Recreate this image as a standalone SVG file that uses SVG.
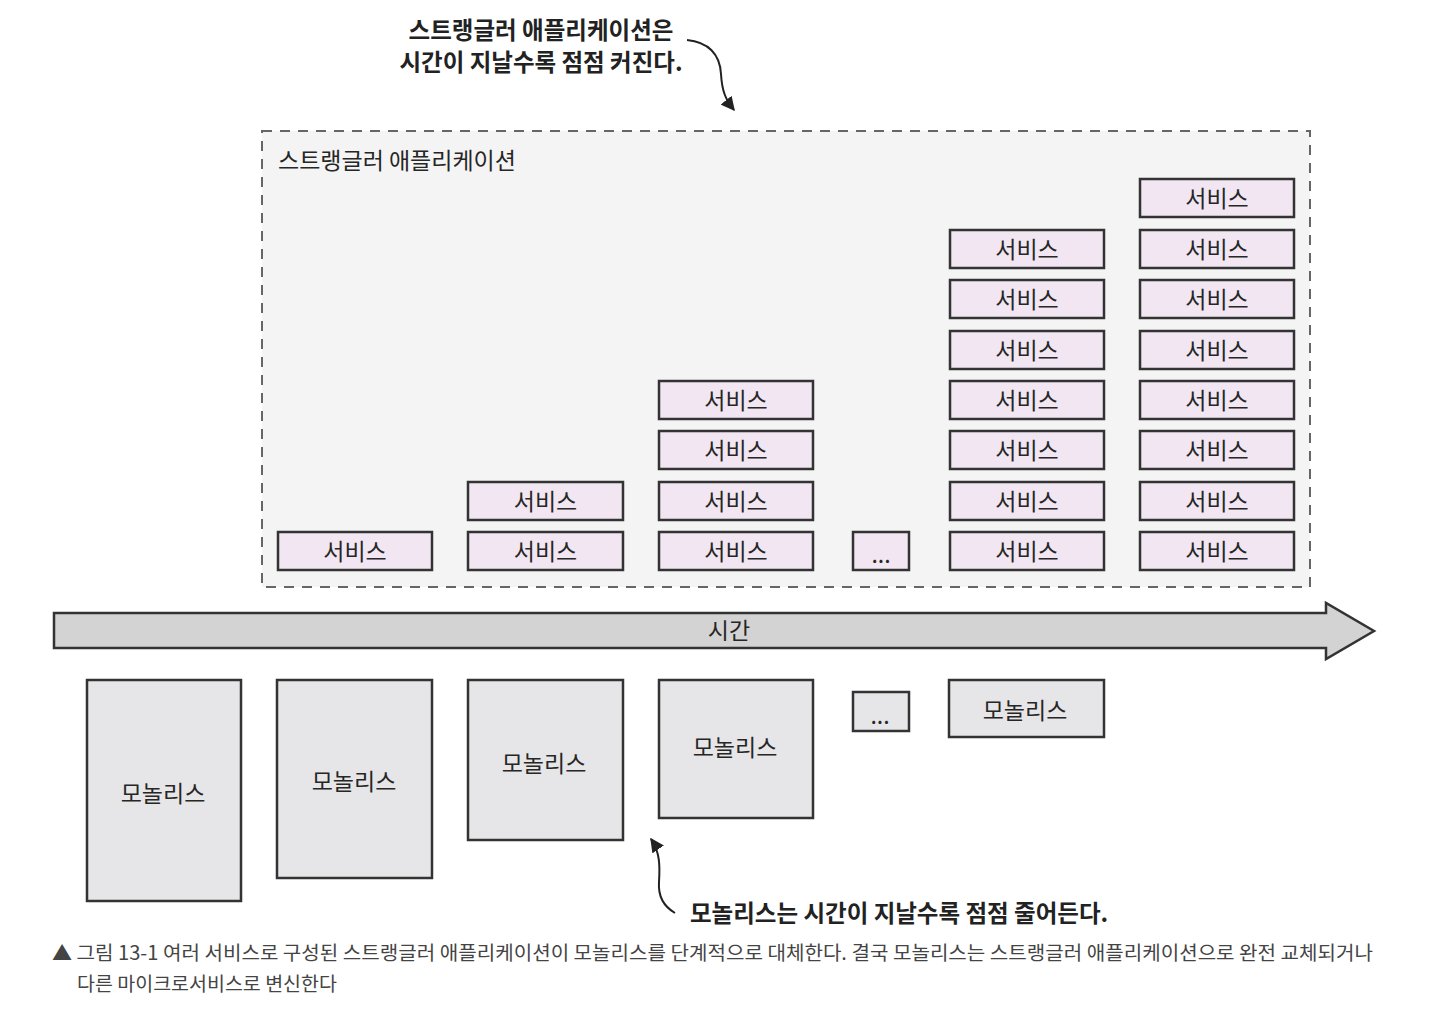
<svg xmlns="http://www.w3.org/2000/svg" width="1431" height="1014" viewBox="0 0 1431 1014">
<style>
text{font-family:"Noto Sans CJK KR","Noto Sans",sans-serif;fill:#262626}
.svc rect{fill:#f1e6f1;stroke:#333;stroke-width:2.5}
.mono rect{fill:#e6e6e8;stroke:#333;stroke-width:2.5}
.lbl{font-size:23px;text-anchor:middle;dominant-baseline:central}
.note{font-size:23.5px;font-weight:700;fill:#222}
.cap{font-size:19.5px;fill:#444}
.curve{fill:none;stroke:#222;stroke-width:2}
</style>
<defs>
<marker id="ah2" viewBox="0 0 10 10" refX="9" refY="5" markerWidth="14" markerHeight="14" orient="auto" markerUnits="userSpaceOnUse">
<path d="M0,0 L10,5 L0,10 z" fill="#222"/>
</marker>
</defs>
<rect width="1431" height="1014" fill="#fff"/>

<g id="strangler">
<rect x="262" y="131" width="1048" height="456" fill="#f4f4f4" stroke="#666" stroke-width="2" stroke-dasharray="10 8"/>
<text x="278" y="159" font-size="23" dominant-baseline="central">스트랭글러 애플리케이션</text>
</g>

<g id="services" class="svc">
<g id="svc-1-1"><rect x="278" y="532" width="154" height="38"/><text class="lbl" x="355" y="550">서비스</text></g>
<g id="svc-2-1"><rect x="468" y="532" width="155" height="38"/><text class="lbl" x="545.5" y="550">서비스</text></g>
<g id="svc-2-2"><rect x="468" y="482" width="155" height="38"/><text class="lbl" x="545.5" y="500">서비스</text></g>
<g id="svc-3-1"><rect x="659" y="532" width="154" height="38"/><text class="lbl" x="736" y="550">서비스</text></g>
<g id="svc-3-2"><rect x="659" y="482" width="154" height="38"/><text class="lbl" x="736" y="500">서비스</text></g>
<g id="svc-3-3"><rect x="659" y="431" width="154" height="38"/><text class="lbl" x="736" y="449">서비스</text></g>
<g id="svc-3-4"><rect x="659" y="381" width="154" height="38"/><text class="lbl" x="736" y="399">서비스</text></g>
<g id="svc-dots"><rect x="853" y="532" width="56" height="38"/><text class="lbl" x="881" y="553" font-size="16">...</text></g>
<g id="svc-4-1"><rect x="950" y="532" width="154" height="38"/><text class="lbl" x="1027" y="550">서비스</text></g>
<g id="svc-4-2"><rect x="950" y="482" width="154" height="38"/><text class="lbl" x="1027" y="500">서비스</text></g>
<g id="svc-4-3"><rect x="950" y="431" width="154" height="38"/><text class="lbl" x="1027" y="449">서비스</text></g>
<g id="svc-4-4"><rect x="950" y="381" width="154" height="38"/><text class="lbl" x="1027" y="399">서비스</text></g>
<g id="svc-4-5"><rect x="950" y="331" width="154" height="38"/><text class="lbl" x="1027" y="349">서비스</text></g>
<g id="svc-4-6"><rect x="950" y="280" width="154" height="38"/><text class="lbl" x="1027" y="298">서비스</text></g>
<g id="svc-4-7"><rect x="950" y="230" width="154" height="38"/><text class="lbl" x="1027" y="248">서비스</text></g>
<g id="svc-5-1"><rect x="1140" y="532" width="154" height="38"/><text class="lbl" x="1217" y="550">서비스</text></g>
<g id="svc-5-2"><rect x="1140" y="482" width="154" height="38"/><text class="lbl" x="1217" y="500">서비스</text></g>
<g id="svc-5-3"><rect x="1140" y="431" width="154" height="38"/><text class="lbl" x="1217" y="449">서비스</text></g>
<g id="svc-5-4"><rect x="1140" y="381" width="154" height="38"/><text class="lbl" x="1217" y="399">서비스</text></g>
<g id="svc-5-5"><rect x="1140" y="331" width="154" height="38"/><text class="lbl" x="1217" y="349">서비스</text></g>
<g id="svc-5-6"><rect x="1140" y="280" width="154" height="38"/><text class="lbl" x="1217" y="298">서비스</text></g>
<g id="svc-5-7"><rect x="1140" y="230" width="154" height="38"/><text class="lbl" x="1217" y="248">서비스</text></g>
<g id="svc-5-8"><rect x="1140" y="179" width="154" height="38"/><text class="lbl" x="1217" y="197">서비스</text></g>
</g>

<g id="time-arrow">
<path d="M54,613 L1326,613 L1326,603 L1374,631 L1326,659 L1326,648 L54,648 Z" fill="#d3d3d3" stroke="#333" stroke-width="2.5" stroke-linejoin="miter"/>
<text class="lbl" x="729" y="629">시간</text>
</g>

<g id="monoliths" class="mono">
<g id="mono-1"><rect x="87" y="680" width="154" height="221"/><text class="lbl" x="163" y="792">모놀리스</text></g>
<g id="mono-2"><rect x="277" y="680" width="155" height="198"/><text class="lbl" x="354" y="780">모놀리스</text></g>
<g id="mono-3"><rect x="468" y="680" width="155" height="160"/><text class="lbl" x="544" y="762">모놀리스</text></g>
<g id="mono-4"><rect x="659" y="680" width="154" height="138"/><text class="lbl" x="735" y="746">모놀리스</text></g>
<g id="mono-dots"><rect x="853" y="692" width="56" height="39"/><text class="lbl" x="880" y="714" font-size="16">...</text></g>
<g id="mono-5"><rect x="949" y="680" width="155" height="57"/><text class="lbl" x="1025" y="709">모놀리스</text></g>
</g>

<g id="connectors">
<path class="curve" d="M687,40 C708,42 720,54 721,74 C722,92 726,100 734,110" marker-end="url(#ah2)"/>
<path class="curve" d="M675,913 C663,906 658,896 659,882 C660,866 660,852 651,839" marker-end="url(#ah2)"/>
</g>

<g id="annotations">
<text class="note" x="541" y="29" text-anchor="middle" dominant-baseline="central">스트랭글러 애플리케이션은</text>
<text class="note" x="541" y="61" text-anchor="middle" dominant-baseline="central">시간이 지날수록 점점 커진다.</text>
<text class="note" x="690" y="912" dominant-baseline="central">모놀리스는 시간이 지날수록 점점 줄어든다.</text>
</g>

<g id="caption">
<text class="cap" x="52" y="951" dominant-baseline="central" textLength="1321" lengthAdjust="spacingAndGlyphs">▲ 그림 13-1 여러 서비스로 구성된 스트랭글러 애플리케이션이 모놀리스를 단계적으로 대체한다. 결국 모놀리스는 스트랭글러 애플리케이션으로 완전 교체되거나</text>
<text class="cap" x="77" y="982" dominant-baseline="central">다른 마이크로서비스로 변신한다</text>
</g>
</svg>
